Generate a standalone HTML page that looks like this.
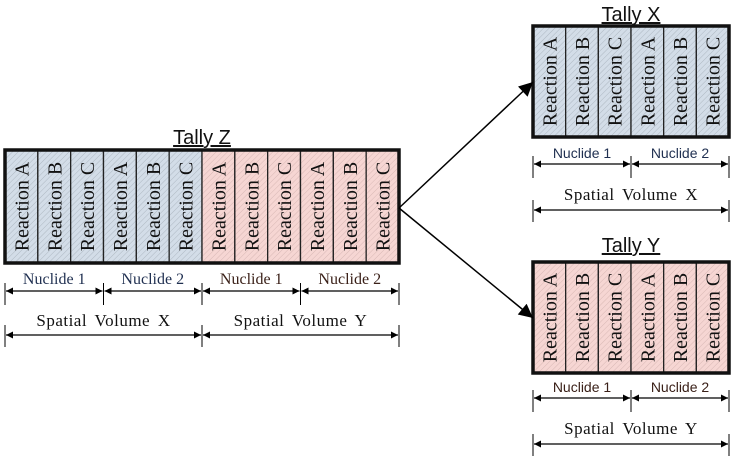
<!DOCTYPE html>
<html><head><meta charset="utf-8"><style>
html,body{margin:0;padding:0;background:#fff;width:736px;height:465px;overflow:hidden}
svg{display:block}
</style></head><body>
<svg id="s" width="736" height="465" viewBox="0 0 736 465" xmlns="http://www.w3.org/2000/svg">
<defs>
<pattern id="hb" width="4" height="4" patternUnits="userSpaceOnUse" patternTransform="rotate(45)">
<rect width="4" height="4" fill="#d3dde8"/><line x1="0" y1="0" x2="0" y2="4" stroke="#aeb8c2" stroke-width="1"/></pattern>
<pattern id="hr" width="4" height="4" patternUnits="userSpaceOnUse" patternTransform="rotate(45)">
<rect width="4" height="4" fill="#f6d6d3"/><line x1="0" y1="0" x2="0" y2="4" stroke="#d8b8b5" stroke-width="1"/></pattern>
<marker id="ah" viewBox="0 0 10 10" refX="10" refY="5" markerWidth="9" markerHeight="7" markerUnits="userSpaceOnUse" orient="auto-start-reverse"><path d="M0,0L10,5L0,10z" fill="#000"/></marker>
<marker id="big" viewBox="0 0 10 10" refX="10" refY="5" markerWidth="18" markerHeight="14" markerUnits="userSpaceOnUse" orient="auto"><path d="M0,0L10,5L0,10z" fill="#000"/></marker>
</defs>
</svg>
<script>
const reactions=['A','B','C'];
const nuclides=['Nuclide 1','Nuclide 2'];
const tallies=[
 {name:'Tally Z',x:5,y:150,w:394,h:113,vols:['X','Y'],fills:['hb','hr'],ty:137,ny:278,ay:291,sy:320,say:335,sans:false},
 {name:'Tally X',x:533,y:26,w:196,h:111,vols:['X'],fills:['hb'],ty:14,ny:152,ay:164,sy:194,say:210,sans:true},
 {name:'Tally Y',x:533,y:262,w:196,h:111,vols:['Y'],fills:['hr'],ty:245,ny:386,ay:398,sy:428,say:444,sans:true}
];
const S=document.getElementById('s');const NS='http://www.w3.org/2000/svg';
function mk(t,a,p){const e=document.createElementNS(NS,t);for(const k in a)e.setAttribute(k,a[k]);(p||S).appendChild(e);return e;}
tallies.forEach(T=>{
 const g=mk('g',{});
 
 
 const n=T.vols.length*nuclides.length*reactions.length;const cw=T.w/n;
 let i=0;
 T.vols.forEach((v,vi)=>{nuclides.forEach((nu,ni)=>{reactions.forEach(r=>{
  const cx=T.x+i*cw;
  const c=mk('rect',{x:cx,y:T.y,width:cw,height:T.h,fill:'url(#'+T.fills[vi]+')',stroke:'#222','stroke-width':1.3},g);
  
  
  const tx=mk('text',{x:0,y:0,transform:`translate(${cx+cw/2+7},${T.y+T.h/2}) rotate(-90)`,'text-anchor':'middle','font-family':'"Liberation Serif",serif','font-size':20,fill:'#111'},g);
  tx.textContent='Reaction '+r;
  
  
  i++;});
  const nx0=T.x+(vi*2+ni)*3*cw,nx1=nx0+3*cw;
  const nt=mk('text',{x:(nx0+nx1)/2,y:T.ny+6,'text-anchor':'middle','font-family':T.sans?'"Liberation Sans",sans-serif':'"Liberation Serif",serif','font-size':T.sans?14:16,fill:T.fills[vi]=='hb'?'#1f2f50':'#3a2018'},g);
  nt.textContent=nu;
  
  
  mk('line',{x1:nx0+1,y1:T.ay,x2:nx1-1,y2:T.ay,stroke:'#000','stroke-width':1.2,'marker-start':'url(#ah)','marker-end':'url(#ah)'},g);
 });
  const vx0=T.x+vi*6*cw,vx1=vx0+6*cw;
  const st=mk('text',{x:(vx0+vx1)/2,y:T.sy+6,'text-anchor':'middle','font-family':'"Liberation Serif",serif','font-size':17,'letter-spacing':'0.5',fill:'#111','word-spacing':'3'},g);
  st.textContent='Spatial Volume '+v;
  
  
  mk('line',{x1:vx0+1,y1:T.say,x2:vx1-1,y2:T.say,stroke:'#000','stroke-width':1.2,'marker-start':'url(#ah)','marker-end':'url(#ah)'},g);
 });
 for(let k=0;k<=T.vols.length*2;k++){const x=T.x+k*3*cw;mk('line',{x1:x,y1:T.ay-8,x2:x,y2:T.ay+14,stroke:'#000','stroke-width':1},g);}
 for(let k=0;k<=T.vols.length;k++){const x=T.x+k*6*cw;mk('line',{x1:x,y1:T.say-10,x2:x,y2:T.say+12,stroke:'#000','stroke-width':1},g);}
 mk('rect',{x:T.x,y:T.y,width:T.w,height:T.h,fill:'none',stroke:'#111','stroke-width':3.5},g);
 const tt=mk('text',{x:T.x+T.w/2,y:T.ty+7,'text-anchor':'middle','font-family':'"Liberation Sans",sans-serif','font-size':20,fill:'#111','text-decoration':'underline'},g);
 tt.textContent=T.name;
 
 
});
const a1=mk('line',{x1:399,y1:208,x2:533,y2:82,stroke:'#000','stroke-width':1.5,'marker-end':'url(#big)'});


const a2=mk('line',{x1:399,y1:208,x2:533,y2:318,stroke:'#000','stroke-width':1.5,'marker-end':'url(#big)'});


</script>
</body></html>
